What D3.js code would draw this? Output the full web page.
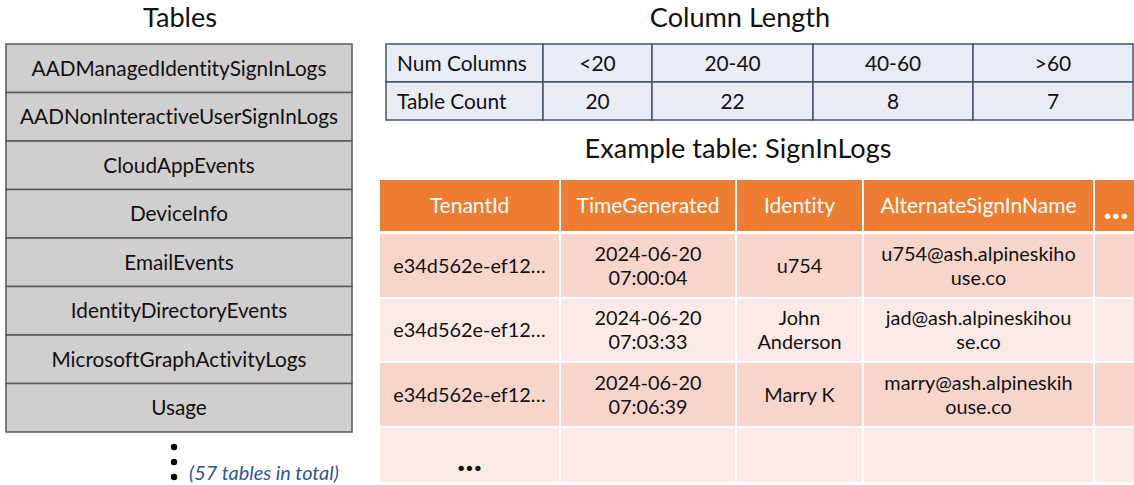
<!DOCTYPE html>
<html>
<head>
<meta charset="utf-8">
<script src="https://cdn.jsdelivr.net/npm/d3@7"></script>
<style>
  html, body { margin: 0; padding: 0; background: #fff; }
  svg { display: block; }
  text { font-variant-ligatures: none; font-feature-settings: "liga" 0, "dlig" 0; }
</style>
</head>
<body>
<svg id="chart" width="1134" height="485"></svg>
<script>
// ---------------- data ----------------
const tableNames = [
  "AADManagedIdentitySignInLogs",
  "AADNonInteractiveUserSignInLogs",
  "CloudAppEvents",
  "DeviceInfo",
  "EmailEvents",
  "IdentityDirectoryEvents",
  "MicrosoftGraphActivityLogs",
  "Usage"
];
const totalTablesNote = "(57 tables in total)";

const columnBins = ["<20", "20-40", "40-60", ">60"];
const tableCounts = [20, 22, 8, 7];
const columnRowLabels = ["Num Columns", "Table Count"];

const exampleTableName = "SignInLogs";
const exampleColumns = ["TenantId", "TimeGenerated", "Identity", "AlternateSignInName", "..."];
const tenantIds = ["e34d562e-ef12…", "e34d562e-ef12…", "e34d562e-ef12…", "..."];
const timeGenerated = ["2024-06-20 07:00:04", "2024-06-20 07:03:33", "2024-06-20 07:06:39", ""];
const identities = ["u754", "John Anderson", "Marry K", ""];
const altSignInNames = ["u754@ash.alpineskiho|use.co", "jad@ash.alpineskihou|se.co", "marry@ash.alpineskih|ouse.co", ""];

// ---------------- setup ----------------
const FONT = "Lato, 'Open Sans', sans-serif";
const svg = d3.select("#chart");

function fitSize(str, target, opts = {}) {
  const t = svg.append("text")
    .attr("font-family", FONT).attr("font-size", 100)
    .attr("font-weight", opts.weight || "normal")
    .attr("font-style", opts.style || "normal")
    .text(str);
  const w = t.node().getComputedTextLength();
  t.remove();
  return 100 * target / w;
}

const titleSize = fitSize("Example table: SignInLogs", 307);
const leftSize = fitSize("AADNonInteractiveUserSignInLogs", 318);
const colTblSize = fitSize("Num Columns", 130);
const headSize = fitSize("TimeGenerated", 143);
const bodySize = fitSize("2024-06-20", 107);
const noteSize = fitSize(totalTablesNote, 150, { style: "italic" });
const moreSize = fitSize("...", 25, { weight: "bold" });

// ---------------- titles ----------------
const titles = [
  { text: "Tables", x: 180, y: 27 },
  { text: "Column Length", x: 740, y: 27 },
  { text: "Example table: " + exampleTableName, x: 738, y: 158 }
];
svg.selectAll("text.title").data(titles).join("text")
  .attr("class", "title")
  .attr("x", d => d.x).attr("y", d => d.y)
  .attr("text-anchor", "middle")
  .attr("font-family", FONT).attr("font-size", titleSize)
  .attr("fill", "#111")
  .text(d => d.text);

// ---------------- left list of tables ----------------
const yLeft = d3.scaleBand().domain(tableNames).range([44, 432]);
const left = svg.append("g");
left.selectAll("rect").data(tableNames).join("rect")
  .attr("x", 6).attr("y", d => yLeft(d))
  .attr("width", 346).attr("height", yLeft.bandwidth())
  .attr("fill", "#d0cece").attr("stroke", "#595959").attr("stroke-width", 1.5);
left.selectAll("text").data(tableNames).join("text")
  .attr("x", 179).attr("y", d => yLeft(d) + yLeft.bandwidth() / 2 + leftSize * 0.36)
  .attr("text-anchor", "middle")
  .attr("font-family", FONT).attr("font-size", leftSize).attr("fill", "#111")
  .text(d => d);

// vertical dots + note
const dotsY = d3.scaleLinear().domain([0, 2]).range([447, 477]);
svg.selectAll("circle.dot").data([0, 1, 2]).join("circle")
  .attr("class", "dot")
  .attr("cx", 174).attr("cy", d => dotsY(d)).attr("r", 3.2).attr("fill", "#000");
svg.append("text")
  .attr("x", 189).attr("y", 480)
  .attr("font-family", FONT).attr("font-size", noteSize).attr("font-style", "italic")
  .attr("fill", "#2f5597")
  .text(totalTablesNote);

// ---------------- column length table ----------------
const colKeys = ["label"].concat(columnBins);
const colEdges = [386, 543, 652, 813, 973, 1133];
const xCol = d3.scaleOrdinal().domain(colKeys).range(colEdges.slice(0, -1));
const wCol = d3.scaleOrdinal().domain(colKeys).range(colEdges.slice(1).map((e, i) => e - colEdges[i]));
const yCol = d3.scaleBand().domain(columnRowLabels).range([44, 120]);

const cells = [];
columnRowLabels.forEach((rowLabel, r) => {
  colKeys.forEach((k, c) => {
    let txt;
    if (c === 0) txt = rowLabel;
    else txt = r === 0 ? columnBins[c - 1] : String(tableCounts[c - 1]);
    cells.push({ row: rowLabel, key: k, text: txt, first: c === 0 });
  });
});
const ct = svg.append("g");
ct.selectAll("rect").data(cells).join("rect")
  .attr("x", d => xCol(d.key)).attr("y", d => yCol(d.row))
  .attr("width", d => wCol(d.key)).attr("height", yCol.bandwidth())
  .attr("fill", "#e9ebf5").attr("stroke", "#44546a").attr("stroke-width", 1.5);
ct.selectAll("text").data(cells).join("text")
  .attr("x", d => d.first ? xCol(d.key) + 11 : xCol(d.key) + wCol(d.key) / 2)
  .attr("y", d => yCol(d.row) + yCol.bandwidth() / 2 + colTblSize * 0.36)
  .attr("text-anchor", d => d.first ? "start" : "middle")
  .attr("font-family", FONT).attr("font-size", colTblSize).attr("fill", "#111")
  .text(d => d.text);

// ---------------- example table ----------------
const exEdges = [379, 560, 736, 863, 1094, 1138];
const xEx = d3.scaleOrdinal().domain(exampleColumns).range(exEdges.slice(0, -1));
const wEx = d3.scaleOrdinal().domain(exampleColumns).range(exEdges.slice(1).map((e, i) => e - exEdges[i]));
const rowIds = ["header", "r0", "r1", "r2", "r3"];
const rowEdges = [179, 233, 298, 362, 427, 483];
const yEx = d3.scaleOrdinal().domain(rowIds).range(rowEdges.slice(0, -1));
const hEx = d3.scaleOrdinal().domain(rowIds).range(rowEdges.slice(1).map((e, i) => e - rowEdges[i]));
const rowFill = d3.scaleOrdinal().domain(rowIds).range(["#ed7d31", "#f8d5cb", "#fbe9e5", "#f8d5cb", "#fbe9e5"]);

const exCells = [];
rowIds.forEach((rid, r) => {
  exampleColumns.forEach((col, c) => {
    let lines = [];
    if (r === 0) lines = [col];
    else {
      const i = r - 1;
      if (c === 0) lines = [tenantIds[i]];
      else if (c === 1) lines = timeGenerated[i] ? timeGenerated[i].split(" ") : [];
      else if (c === 2) lines = identities[i] ? (identities[i].length > 8 ? identities[i].split(" ") : [identities[i]]) : [];
      else if (c === 3) lines = altSignInNames[i] ? altSignInNames[i].split("|") : [];
    }
    const isMore = lines.length === 1 && lines[0] === "...";
    exCells.push({ row: rid, col: col, lines: lines, header: r === 0, more: isMore });
  });
});

const ex = svg.append("g");
ex.selectAll("rect").data(exCells).join("rect")
  .attr("x", d => xEx(d.col) + 1).attr("y", d => yEx(d.row) + 1)
  .attr("width", d => wEx(d.col) - 2)
  .attr("height", d => hEx(d.row) - (d.header ? 3 : 2))
  .attr("fill", d => rowFill(d.row));

const lineH = bodySize * 1.2;
const exText = ex.selectAll("text").data(exCells.filter(d => d.lines.length)).join("text")
  .attr("text-anchor", "middle")
  .attr("font-family", FONT)
  .attr("font-size", d => d.more ? moreSize : (d.header ? headSize : bodySize))
  .attr("font-weight", d => d.more ? "bold" : "normal")
  .attr("fill", d => d.header ? "#ffffff" : "#111");
exText.selectAll("tspan").data(d => d.lines.map((l, i) => ({ l, i, n: d.lines.length, d }))).join("tspan")
  .attr("x", t => xEx(t.d.col) + wEx(t.d.col) / 2)
  .attr("y", t => {
    const cy = yEx(t.d.row) + hEx(t.d.row) / 2 + (t.d.header ? -1 : 0);
    if (t.d.more) return cy + (t.d.header ? 14 : 16);
    const size = t.d.header ? headSize : bodySize;
    return cy + (t.i - (t.n - 1) / 2) * lineH + size * 0.36;
  })
  .text(t => t.l);
</script>
</body>
</html>
